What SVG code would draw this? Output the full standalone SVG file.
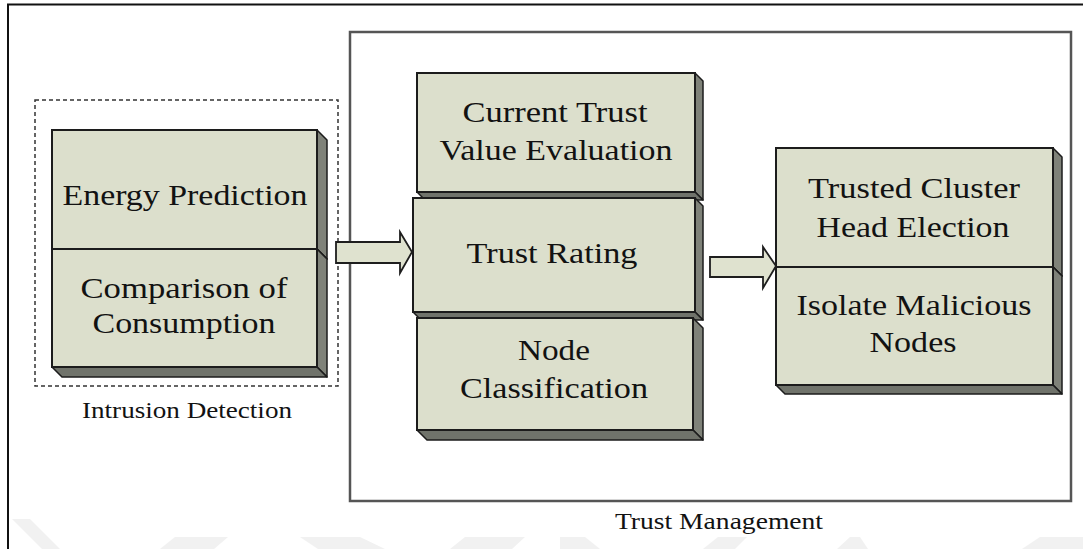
<svg xmlns="http://www.w3.org/2000/svg" width="1083" height="549" viewBox="0 0 1083 549">
  <style>
    .front { fill: #dcdfcc; stroke: #1c1c1c; stroke-width: 2; }
    .side { fill: #7f8279; stroke: #1c1c1c; stroke-width: 1.5; stroke-linejoin: round; }
    .bottom { fill: #70736b; stroke: #1c1c1c; stroke-width: 1.5; stroke-linejoin: round; }
    .lbl { font-family: "Liberation Serif", "Times New Roman", serif; font-size: 30px; fill: #121212; text-anchor: middle; }
    .cap { font-family: "Liberation Serif", "Times New Roman", serif; font-size: 24px; fill: #121212; text-anchor: middle; }
    .arrow { fill: #dfe2cf; stroke: #1e1e1e; stroke-width: 1.8; stroke-linejoin: miter; }
    .wm { fill: #f1f1f1; }
  </style>

  <rect width="1083" height="549" fill="#ffffff"/>

  <!-- faint background marks along the lower edge -->
  <g id="backdrop">
    <polygon class="wm" points="12,519 30,519 60,549 42,549"/>
    <polygon class="wm" points="160,549 175,537 228,537 214,549"/>
    <polygon class="wm" points="300,537 360,537 385,549 318,549"/>
    <polygon class="wm" points="450,549 465,537 525,537 512,549"/>
    <polygon class="wm" points="560,537 585,537 600,549 560,549"/>
    <polygon class="wm" points="703,549 718,537 747,537 735,549"/>
    <polygon class="wm" points="837,549 850,537 860,537 868,549"/>
    <polygon class="wm" points="1022,549 1040,537 1083,537 1083,549"/>
  </g>

  <!-- outer frame (open at right and bottom) -->
  <g id="frame">
    <polyline points="8,549 8,4.5 1083,4.5" fill="none" stroke="#111" stroke-width="2"/>
  </g>

  <!-- group outlines -->
  <g id="intrusion-detection">
    <rect x="35" y="100" width="303" height="286" fill="none" stroke="#333" stroke-width="1.5" stroke-dasharray="4 3"/>
    <text class="cap" x="187" y="418" textLength="210" lengthAdjust="spacingAndGlyphs">Intrusion Detection</text>
  </g>
  <g id="trust-management">
    <rect x="350" y="32" width="721" height="469" fill="none" stroke="#555" stroke-width="2.5"/>
    <text class="cap" x="719" y="529" textLength="208" lengthAdjust="spacingAndGlyphs">Trust Management</text>
  </g>

  <!-- blocks: front face, right side face, bottom face -->
  <g id="energy-prediction">
    <polygon class="side" points="317,130 327,140 327,259 317,249"/>
    <polygon class="bottom" points="52,249 317,249 327,259 62,259"/>
    <rect class="front" x="52" y="130" width="265" height="119"/>
    <text class="lbl" x="185" y="205" textLength="245" lengthAdjust="spacingAndGlyphs">Energy Prediction</text>
  </g>
  <g id="comparison-of-consumption">
    <polygon class="side" points="317,249 327,259 327,377 317,367"/>
    <polygon class="bottom" points="52,367 317,367 327,377 62,377"/>
    <rect class="front" x="52" y="249" width="265" height="118"/>
    <text class="lbl" x="184" y="298" textLength="207" lengthAdjust="spacingAndGlyphs">Comparison of</text>
    <text class="lbl" x="184" y="333" textLength="183" lengthAdjust="spacingAndGlyphs">Consumption</text>
  </g>

  <g id="current-trust-value-evaluation">
    <polygon class="side" points="695,73 703,81 703,200 695,192"/>
    <polygon class="bottom" points="417,192 695,192 703,200 425,200"/>
    <rect class="front" x="417" y="73" width="278" height="119"/>
    <text class="lbl" x="555" y="122" textLength="185" lengthAdjust="spacingAndGlyphs">Current Trust</text>
    <text class="lbl" x="556" y="160" textLength="233" lengthAdjust="spacingAndGlyphs">Value Evaluation</text>
  </g>
  <g id="trust-rating">
    <polygon class="side" points="695,198 703,206 703,320 695,312"/>
    <polygon class="bottom" points="413,312 695,312 703,320 421,320"/>
    <rect class="front" x="413" y="198" width="282" height="114"/>
    <text class="lbl" x="552" y="263" textLength="171" lengthAdjust="spacingAndGlyphs">Trust Rating</text>
  </g>
  <g id="node-classification">
    <polygon class="side" points="693,318 703,328 703,440 693,430"/>
    <polygon class="bottom" points="417,430 693,430 703,440 427,440"/>
    <rect class="front" x="417" y="318" width="276" height="112"/>
    <text class="lbl" x="554" y="360" textLength="72" lengthAdjust="spacingAndGlyphs">Node</text>
    <text class="lbl" x="554" y="398" textLength="188" lengthAdjust="spacingAndGlyphs">Classification</text>
  </g>

  <g id="trusted-cluster-head-election">
    <polygon class="side" points="1053,148 1062,157 1062,276 1053,267"/>
    <polygon class="bottom" points="776,267 1053,267 1062,276 785,276"/>
    <rect class="front" x="776" y="148" width="277" height="119"/>
    <text class="lbl" x="914" y="198" textLength="212" lengthAdjust="spacingAndGlyphs">Trusted Cluster</text>
    <text class="lbl" x="913" y="237" textLength="193" lengthAdjust="spacingAndGlyphs">Head Election</text>
  </g>
  <g id="isolate-malicious-nodes">
    <polygon class="side" points="1053,267 1062,276 1062,394 1053,385"/>
    <polygon class="bottom" points="776,385 1053,385 1062,394 785,394"/>
    <rect class="front" x="776" y="267" width="277" height="118"/>
    <text class="lbl" x="914" y="315" textLength="235" lengthAdjust="spacingAndGlyphs">Isolate Malicious</text>
    <text class="lbl" x="913" y="352" textLength="87" lengthAdjust="spacingAndGlyphs">Nodes</text>
  </g>

  <!-- block arrows between stages -->
  <g id="connectors">
    <polygon class="arrow" points="336,242 400,242 400,232 412,252 400,273 400,263 336,263"/>
    <polygon class="arrow" points="710,257 763,257 763,247 776,266 763,288 763,277 710,277"/>
  </g>
</svg>
